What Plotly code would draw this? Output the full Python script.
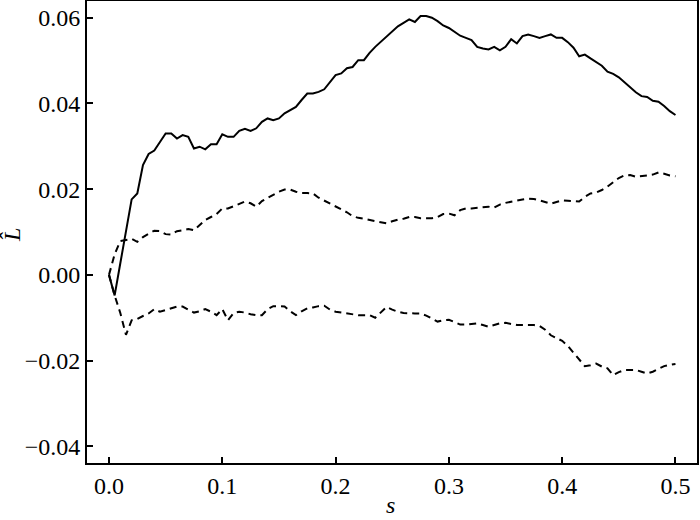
import plotly.graph_objects as go

s = [round(i * 0.005, 3) for i in range(101)]

L_hat = [
    0.0000, -0.0048, 0.0027, 0.0100, 0.0176, 0.0190, 0.0256, 0.0282, 0.0290, 0.0310,
    0.0330, 0.0330, 0.0318, 0.0326, 0.0322, 0.0295, 0.0299, 0.0293, 0.0305, 0.0305,
    0.0328, 0.0322, 0.0322, 0.0336, 0.0341, 0.0336, 0.0342, 0.0357, 0.0365, 0.0361,
    0.0365, 0.0377, 0.0384, 0.0392, 0.0408, 0.0423, 0.0423, 0.0427, 0.0433, 0.0450,
    0.0466, 0.0470, 0.0482, 0.0485, 0.0501, 0.0501, 0.0518, 0.0532, 0.0544, 0.0555,
    0.0566, 0.0580, 0.0588, 0.0596, 0.0590, 0.0604, 0.0604, 0.0600, 0.0592, 0.0582,
    0.0576, 0.0568, 0.0558, 0.0553, 0.0548, 0.0532, 0.0528, 0.0526, 0.0532, 0.0524,
    0.0532, 0.0550, 0.0540, 0.0557, 0.0561, 0.0557, 0.0553, 0.0557, 0.0561, 0.0553,
    0.0553, 0.0543, 0.0530, 0.0510, 0.0514, 0.0505, 0.0497, 0.0488, 0.0474, 0.0469,
    0.0461, 0.0449, 0.0436, 0.0426, 0.0417, 0.0415, 0.0406, 0.0404, 0.0394, 0.0382,
    0.0373,
]

upper_band = [
    0.0000, 0.0048, 0.0079, 0.0082, 0.0084, 0.0077, 0.0088, 0.0096, 0.0103, 0.0102,
    0.0095, 0.0094, 0.0102, 0.0104, 0.0107, 0.0104, 0.0116, 0.0128, 0.0135, 0.0142,
    0.0155, 0.0155, 0.0160, 0.0166, 0.0171, 0.0167, 0.0159, 0.0172, 0.0180, 0.0186,
    0.0194, 0.0199, 0.0199, 0.0194, 0.0191, 0.0191, 0.0190, 0.0180, 0.0173, 0.0165,
    0.0159, 0.0153, 0.0146, 0.0137, 0.0133, 0.0131, 0.0128, 0.0125, 0.0122, 0.0120,
    0.0125, 0.0129, 0.0131, 0.0135, 0.0135, 0.0132, 0.0132, 0.0132, 0.0135, 0.0142,
    0.0143, 0.0139, 0.0151, 0.0155, 0.0155, 0.0156, 0.0157, 0.0159, 0.0157, 0.0164,
    0.0168, 0.0171, 0.0174, 0.0176, 0.0178, 0.0177, 0.0174, 0.0170, 0.0166, 0.0170,
    0.0174, 0.0173, 0.0172, 0.0171, 0.0182, 0.0190, 0.0192, 0.0198, 0.0206, 0.0216,
    0.0226, 0.0232, 0.0233, 0.0229, 0.0230, 0.0232, 0.0234, 0.0239, 0.0236, 0.0232,
    0.0230,
]

lower_band = [
    0.0000, -0.0048, -0.0089, -0.0140, -0.0106, -0.0103, -0.0096, -0.0090, -0.0080, -0.0086,
    -0.0082, -0.0078, -0.0074, -0.0074, -0.0081, -0.0088, -0.0085, -0.0080, -0.0086, -0.0094,
    -0.0080, -0.0106, -0.0089, -0.0086, -0.0088, -0.0092, -0.0094, -0.0094, -0.0080, -0.0073,
    -0.0073, -0.0074, -0.0085, -0.0094, -0.0085, -0.0078, -0.0076, -0.0073, -0.0072, -0.0081,
    -0.0086, -0.0088, -0.0090, -0.0093, -0.0094, -0.0094, -0.0094, -0.0100, -0.0087, -0.0075,
    -0.0081, -0.0086, -0.0089, -0.0090, -0.0090, -0.0090, -0.0095, -0.0102, -0.0109, -0.0106,
    -0.0105, -0.0110, -0.0116, -0.0116, -0.0115, -0.0113, -0.0117, -0.0121, -0.0117, -0.0113,
    -0.0112, -0.0115, -0.0117, -0.0117, -0.0117, -0.0117, -0.0119, -0.0128, -0.0141, -0.0148,
    -0.0154, -0.0166, -0.0182, -0.0197, -0.0213, -0.0211, -0.0207, -0.0214, -0.0218, -0.0234,
    -0.0227, -0.0222, -0.0222, -0.0222, -0.0226, -0.0230, -0.0226, -0.0220, -0.0213, -0.0210,
    -0.0208,
]

x_ticks = [0.0, 0.1, 0.2, 0.3, 0.4, 0.5]
x_tick_labels = ["0.0", "0.1", "0.2", "0.3", "0.4", "0.5"]
y_ticks = [-0.04, -0.02, 0.0, 0.02, 0.04, 0.06]
y_tick_labels = ["\u22120.04", "\u22120.02", "0.00", "0.02", "0.04", "0.06"]
x_title = "<i>s</i>"
y_title = "<i>L\u0302</i>"

FONT = "Liberation Serif, Times New Roman, DejaVu Serif, serif"

fig = go.Figure()
fig.add_trace(go.Scatter(x=s, y=upper_band, mode="lines",
                         line=dict(color="black", width=2, dash="7px,5px"), showlegend=False))
fig.add_trace(go.Scatter(x=s, y=lower_band, mode="lines",
                         line=dict(color="black", width=2, dash="7px,5px"), showlegend=False))
fig.add_trace(go.Scatter(x=s, y=L_hat, mode="lines",
                         line=dict(color="black", width=2), showlegend=False))

axis_common = dict(showgrid=False, zeroline=False, showline=True, linecolor="black",
                   linewidth=2, mirror=True, ticks="inside", ticklen=6, tickwidth=1.5,
                   tickcolor="black", tickfont=dict(family=FONT, size=24, color="black"))

fig.update_xaxes(range=[-0.0194, 0.519], tickvals=x_ticks, ticktext=x_tick_labels,
                 **axis_common)
fig.update_yaxes(range=[-0.0439, 0.0639], tickvals=y_ticks, ticktext=y_tick_labels,
                 **axis_common)

title_font = dict(family=FONT, size=24, color="black")
fig.add_annotation(text=x_title, xref="paper", yref="paper", x=0.5, y=0,
                   xanchor="center", yanchor="middle", yshift=-42, xshift=-2, showarrow=False,
                   font=title_font)
fig.add_annotation(text=y_title, xref="paper", yref="paper", x=0, y=0.5,
                   xanchor="center", yanchor="middle", xshift=-75, yshift=-3, showarrow=False,
                   textangle=-90, font=title_font)

fig.update_layout(width=700, height=520, plot_bgcolor="white", paper_bgcolor="white",
                  margin=dict(l=87, r=3, t=1, b=57, autoexpand=False),
                  font=dict(family=FONT, color="black"))

fig.write_html("out.html", config={"displayModeBar": False},
               post_script="document.body.style.margin='0';document.body.style.padding='0';")
